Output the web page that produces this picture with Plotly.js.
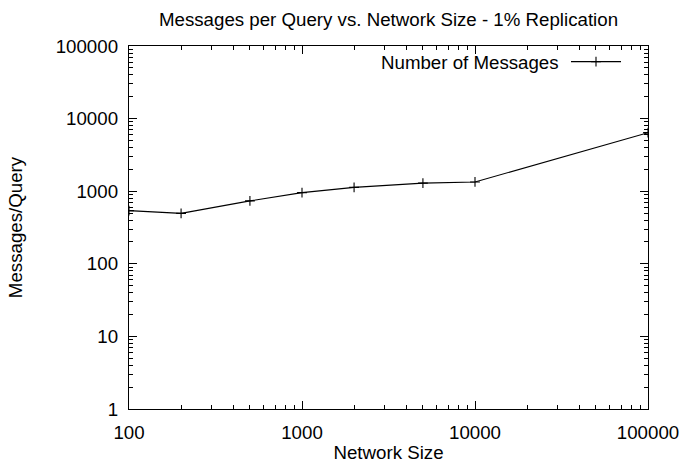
<!DOCTYPE html>
<html>
<head>
<meta charset="utf-8">
<script src="https://cdn.plot.ly/plotly-3.0.1.min.js"></script>
<style>
  html, body { margin: 0; padding: 0; background: #fff; }
  #chart { width: 680px; height: 463px; }
</style>
</head>
<body>
<div id="chart"></div>
<script>
// Network sizes (nodes) and average messages per query at 1% replication
const networkSize = [100, 200, 500, 1000, 2000, 5000, 10000, 100000];
const messagesPerQuery = [540, 495, 735, 955, 1130, 1290, 1340, 6400];

const xTickVals = [100, 1000, 10000, 100000];
const xTickText = ['100', '1000', '10000', '100000'];
const yTickVals = [1, 10, 100, 1000, 10000, 100000];
const yTickText = ['1', '10', '100', '1000', '10000', '100000'];

const seriesName = 'Number of Messages';
const FONT = '"Liberation Sans", Arial, Helvetica, sans-serif';
const FS = 18.7;

const trace = {
  x: networkSize,
  y: messagesPerQuery,
  type: 'scatter',
  mode: 'lines+markers',
  name: ' ',
  line: { color: '#000', width: 1.1 },
  marker: { symbol: 'cross-thin-open', size: 7, line: { color: '#000', width: 1.1 } },
  showlegend: true,
  hoverinfo: 'x+y'
};

const axisCommon = {
  type: 'log',
  showline: true,
  linecolor: '#000',
  linewidth: 1.2,
  mirror: 'ticks',
  ticks: 'inside',
  ticklen: 8,
  tickwidth: 1,
  tickcolor: '#000',
  showgrid: false,
  zeroline: false,
  tickfont: { family: FONT, size: FS, color: '#000' },
  minor: { ticks: 'inside', ticklen: 4, tickwidth: 1, tickcolor: '#000', dtick: 'D1', showgrid: false }
};

const layout = {
  width: 680,
  height: 463,
  paper_bgcolor: '#fff',
  plot_bgcolor: '#fff',
  margin: { l: 129, r: 32, t: 46, b: 54 },
  font: { family: FONT, color: '#000' },
  title: {
    text: 'Messages per Query vs. Network Size - 1% Replication',
    font: { family: FONT, size: FS, color: '#000' },
    x: 0.5, xref: 'paper', xanchor: 'center',
    y: 1 - 19 / 463, yref: 'container', yanchor: 'middle'
  },
  xaxis: Object.assign({}, axisCommon, {
    range: [2, 5],
    tickvals: xTickVals,
    ticktext: xTickText,
    ticklabelstandoff: 6,
    title: { text: 'Network Size', font: { family: FONT, size: FS, color: '#000' }, standoff: 6 }
  }),
  yaxis: Object.assign({}, axisCommon, {
    range: [0, 5],
    tickvals: yTickVals,
    ticktext: yTickText,
    ticklabelstandoff: 6,
    title: { text: 'Messages/Query', font: { family: FONT, size: FS, color: '#000' }, standoff: 28 }
  }),
  showlegend: true,
  legend: {
    x: (566 - 129) / 519, xanchor: 'left',
    y: (409 - 62) / 363, yanchor: 'middle',
    bgcolor: 'rgba(0,0,0,0)',
    itemwidth: 50,
    font: { family: FONT, size: FS }
  },
  annotations: [{
    text: seriesName,
    xref: 'paper', yref: 'paper',
    x: (561 - 129) / 519, xanchor: 'right',
    y: (409 - 62) / 363, yanchor: 'middle',
    showarrow: false,
    font: { family: FONT, size: FS, color: '#000' }
  }]
};

Plotly.newPlot('chart', [trace], layout, { displayModeBar: false, staticPlot: true });
</script>
</body>
</html>
